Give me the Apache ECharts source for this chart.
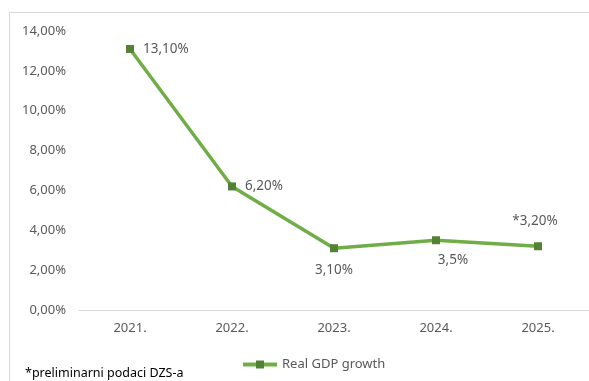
<!DOCTYPE html>
<html>
<head>
<meta charset="utf-8">
<script src="https://cdn.jsdelivr.net/npm/echarts@6/dist/echarts.min.js"></script>
<style>
html,body{margin:0;padding:0;background:#fff;}
#c{width:589px;height:381px;}
</style>
</head>
<body>
<div id="c"></div>
<script>
var categories = ['2021.', '2022.', '2023.', '2024.', '2025.'];
var gdpGrowth = [13.1, 6.2, 3.1, 3.5, 3.2];
var pointLabels = ['13,10%', '6,20%', '3,10%', '3,5%', '*3,20%'];
var yTicks = [0, 2, 4, 6, 8, 10, 12, 14];
var seriesName = 'Real GDP growth';
var footnote = '*preliminarni podaci DZS-a';

var labelPlacement = [
  {position: 'right', distance: 9},
  {position: 'right', distance: 9},
  {position: 'bottom', distance: 11},
  {position: 'bottom', distance: 9, offset: [17, 0]},
  {position: 'top', distance: 14, offset: [-3, 0]}
];

var FONT = '"Noto Sans", sans-serif';
var chart = echarts.init(document.getElementById('c'), null, {renderer: 'canvas'});

var seriesData = gdpGrowth.map(function (v, i) {
  var p = labelPlacement[i];
  return {
    value: v,
    label: {
      show: true,
      position: p.position,
      distance: p.distance,
      offset: p.offset || [0, 0],
      formatter: pointLabels[i]
    }
  };
});

chart.setOption({
  animation: false,
  backgroundColor: '#ffffff',
  textStyle: {fontFamily: FONT},
  graphic: [
    {
      type: 'rect',
      shape: {x: 9.5, y: 12.5, width: 600, height: 400},
      style: {fill: 'none', stroke: '#d9d9d9', lineWidth: 1},
      silent: true
    },
    {
      type: 'text',
      left: 25,
      top: 367,
      style: {text: footnote, fill: '#000000', font: '12.5px ' + FONT}
    }
  ],
  legend: {
    data: [seriesName],
    left: 236,
    top: 353,
    itemWidth: 34,
    itemHeight: 10,
    lineStyle: {width: 4},
    textStyle: {color: '#595959', fontSize: 13, fontFamily: FONT}
  },
  grid: {left: 79, top: 31, width: 512, height: 279, containLabel: false},
  xAxis: {
    type: 'category',
    data: categories,
    boundaryGap: true,
    axisLine: {show: true, lineStyle: {color: '#d9d9d9', width: 1}},
    axisTick: {show: false},
    axisLabel: {color: '#595959', fontSize: 13, margin: 12, fontFamily: FONT}
  },
  yAxis: {
    type: 'value',
    min: yTicks[0],
    max: yTicks[yTicks.length - 1],
    interval: 2,
    axisLine: {show: false},
    axisTick: {show: false},
    splitLine: {show: false},
    axisLabel: {
      color: '#595959', fontSize: 13, margin: 13, fontFamily: FONT,
      formatter: function (v) { return v.toFixed(2).replace('.', ',') + '%'; }
    }
  },
  series: [{
    name: seriesName,
    type: 'line',
    data: seriesData,
    symbol: 'rect',
    symbolSize: 8,
    lineStyle: {color: '#70ad47', width: 3.5},
    itemStyle: {color: '#548235'},
    label: {color: '#595959', fontSize: 13.5, fontFamily: FONT}
  }]
});
</script>
</body>
</html>
